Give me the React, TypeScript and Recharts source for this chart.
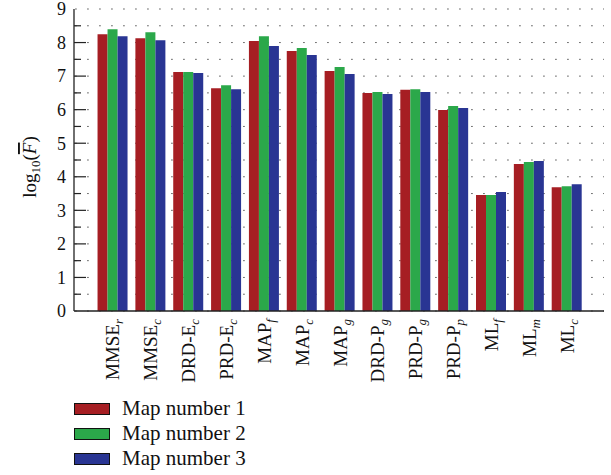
import { BarChart, Bar, XAxis, YAxis, CartesianGrid, Legend } from 'recharts';

const methods = ['MMSE', 'MMSE', 'DRD-E', 'PRD-E', 'MAP', 'MAP', 'MAP', 'DRD-P', 'PRD-P', 'PRD-P', 'ML', 'ML', 'ML'];
const methodSubs = ['r', 'c', 'c', 'c', 'f', 'c', 'g', 'g', 'g', 'p', 'f', 'm', 'c'];

const map1 = [8.25, 8.13, 7.12, 6.64, 8.05, 7.75, 7.15, 6.5, 6.59, 5.99, 3.46, 4.38, 3.69];
const map2 = [8.4, 8.31, 7.12, 6.73, 8.19, 7.84, 7.27, 6.53, 6.61, 6.11, 3.46, 4.44, 3.72];
const map3 = [8.19, 8.07, 7.09, 6.61, 7.9, 7.63, 7.06, 6.47, 6.53, 6.05, 3.55, 4.47, 3.78];

const yTicks = [0, 0.5, 1, 1.5, 2, 2.5, 3, 3.5, 4, 4.5, 5, 5.5, 6, 6.5, 7, 7.5, 8, 8.5, 9];

const seriesNames = ['Map number 1', 'Map number 2', 'Map number 3'];
const colors = ['#a61e23', '#2ba84a', '#293593'];

const data = methods.map((m, i) => ({
    name: `${m}_${methodSubs[i]}`,
    base: m,
    sub: methodSubs[i],
    map1: map1[i],
    map2: map2[i],
    map3: map3[i],
}));

const FONT = 'Liberation Serif';
const AXIS = '#222';

const LeftTick = (props: any) => {
    const { x, y, payload } = props;
    const v = payload.value;
    const major = Number.isInteger(v);
    return (
        <g>
            {v > 0 && v < 9 && <line x1={x} x2={x + (major ? 12 : 7)} y1={y} y2={y} stroke={AXIS} strokeWidth={1.2} />}
            {major && (
                <text x={x - 8} y={y} dy="0.35em" textAnchor="end" fontFamily={FONT} fontSize={18} fill="#111">
                    {v}
                </text>
            )}
        </g>
    );
};

const RightTick = (props: any) => {
    const { x, y, payload } = props;
    const v = payload.value;
    const major = Number.isInteger(v);
    if (v <= 0 || v >= 9) return null;
    return <line x1={x} x2={x - (major ? 11 : 7)} y1={y} y2={y} stroke={AXIS} strokeWidth={1.2} />;
};

const CategoryTick = (props: any) => {
    const { x, y, payload, index } = props;
    const d = data[index] || data.find((r) => r.name === payload.value);
    const bx = x + 7.5;
    const by = y + 8;
    return (
        <text
            x={bx}
            y={by}
            transform={`rotate(-90, ${bx}, ${by})`}
            textAnchor="end"
            fontFamily={FONT}
            fontSize={19}
            fill="#111"
        >
            <tspan>{d.base}</tspan>
            <tspan fontSize={13} fontStyle="italic" dy={4}>
                {d.sub}
            </tspan>
        </text>
    );
};

const YLabel = (props: any) => {
    const vb = props.viewBox || { x: 0, y: 9, height: 302 };
    const cx = vb.x + 36;
    const cy = vb.y + vb.height / 2 + 7;
    return (
        <text
            x={cx}
            y={cy}
            transform={`rotate(-90, ${cx}, ${cy})`}
            textAnchor="middle"
            fontFamily={FONT}
            fontSize={19}
            fill="#111"
        >
            <tspan>log</tspan>
            <tspan fontSize={13} dy={4}>
                10
            </tspan>
            <tspan dy={-4}>(</tspan>
            <tspan fontStyle="italic" style={{ textDecoration: 'overline' }}>
                F
            </tspan>
            <tspan>)</tspan>
        </text>
    );
};

const LegendBox = () => (
    <div style={{ height: 76, fontFamily: FONT, fontSize: 21, color: '#111' }}>
        {seriesNames.map((n, i) => (
            <div key={n} style={{ display: 'flex', alignItems: 'center', height: 25 }}>
                <span
                    style={{
                        display: 'inline-block',
                        width: 34,
                        height: 10,
                        background: colors[i],
                        border: '1px solid #111',
                        marginRight: 12,
                    }}
                />
                <span>{n}</span>
            </div>
        ))}
    </div>
);

export default function App() {
    return (
        <div style={{ position: 'absolute', left: 0, top: 0 }}>
            <BarChart
                width={611}
                height={475}
                data={data}
                margin={{ top: 9, right: 7, left: 0, bottom: 3 }}
                barGap={0}
                barCategoryGap="12%"
            >
                <CartesianGrid
                    yAxisId="left"
                    vertical={false}
                    stroke="#333"
                    strokeDasharray="1.3 10.7"
                    strokeDashoffset={10.7}
                />
                <XAxis
                    dataKey="name"
                    height={85}
                    padding={{ left: 19, right: 19 }}
                    interval={0}
                    tickLine={false}
                    tickSize={0}
                    tickMargin={0}
                    tick={<CategoryTick />}
                    axisLine={{ stroke: AXIS, strokeWidth: 1.3 }}
                />
                <XAxis
                    xAxisId="top"
                    orientation="top"
                    dataKey="name"
                    mirror
                    height={0}
                    padding={{ left: 19, right: 19 }}
                    interval={0}
                    tick={false}
                    tickSize={11}
                    tickLine={{ stroke: AXIS, strokeWidth: 1.3 }}
                    axisLine={{ stroke: AXIS, strokeWidth: 1.3 }}
                />
                <YAxis
                    yAxisId="left"
                    width={74}
                    domain={[0, 9]}
                    ticks={yTicks}
                    interval={0}
                    tickLine={false}
                    tickSize={0}
                    tickMargin={0}
                    tick={<LeftTick />}
                    axisLine={{ stroke: AXIS, strokeWidth: 1.3 }}
                    label={<YLabel />}
                />
                <YAxis
                    yAxisId="right"
                    orientation="right"
                    mirror
                    width={0}
                    domain={[0, 9]}
                    ticks={yTicks}
                    interval={0}
                    tickLine={false}
                    tickSize={0}
                    tickMargin={0}
                    tick={<RightTick />}
                    axisLine={{ stroke: AXIS, strokeWidth: 1.3 }}
                />
                <Legend
                    layout="horizontal"
                    verticalAlign="bottom"
                    align="left"
                    content={<LegendBox />}
                    wrapperStyle={{ left: 74, bottom: 3, width: 260, height: 76 }}
                />
                <Bar yAxisId="left" dataKey="map1" name={seriesNames[0]} fill={colors[0]} isAnimationActive={false} />
                <Bar yAxisId="left" dataKey="map2" name={seriesNames[1]} fill={colors[1]} isAnimationActive={false} />
                <Bar yAxisId="left" dataKey="map3" name={seriesNames[2]} fill={colors[2]} isAnimationActive={false} />
            </BarChart>
        </div>
    );
}
